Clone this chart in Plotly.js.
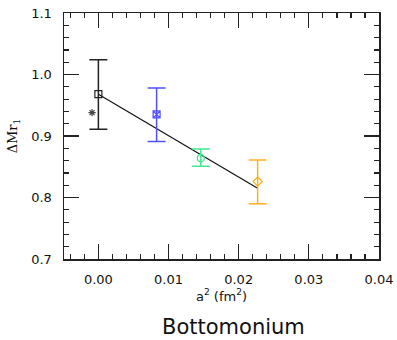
<!DOCTYPE html>
<html><head><meta charset="utf-8">
<script src="https://cdn.plot.ly/plotly-3.0.1.min.js"></script>
<style>html,body{margin:0;padding:0;background:#fff}#chart{width:397px;height:340px}</style>
</head><body><div id="chart"></div>
<script>
// data
const seriesNames = ['continuum','extra','blue','green','orange'];
const xs = [0.0, -0.0009, 0.0083, 0.0146, 0.0227];
const ys = [0.968, 0.938, 0.935, 0.864, 0.826];
const errPlus  = [0.056, 0, 0.043, 0.015, 0.035];
const errMinus = [0.057, 0, 0.044, 0.013, 0.036];
const colors = ['#222222', '#444444', '#5050ff', '#40e890', '#ffb020'];
const symbols = ['square-open', 'asterisk-open', 'square-x-open', 'circle-open', 'diamond-open'];
const fitX = [0.0, 0.0227];
const fitY = [0.968, 0.815];
const xTickVals = [0.00, 0.01, 0.02, 0.03, 0.04];
const xTickText = ['0.00','0.01','0.02','0.03','0.04'];
const yTickVals = [0.7, 0.8, 0.9, 1.0, 1.1];
const yTickText = ['0.7','0.8','0.9','1.0','1.1'];

const traces = [{
  x: fitX, y: fitY, mode: 'lines', line: {color: '#111', width: 1.2}, hoverinfo: 'skip'
}];
for (let i = 0; i < xs.length; i++) {
  const hasErr = errPlus[i] > 0;
  traces.push({
    x: [xs[i]], y: [ys[i]], mode: 'markers', name: seriesNames[i],
    marker: {symbol: symbols[i], size: i === 1 ? 6 : 7, color: colors[i], line: {width: 1.2, color: colors[i]}},
    error_y: hasErr ? {type: 'data', symmetric: false, array: [errPlus[i]], arrayminus: [errMinus[i]],
      color: colors[i], thickness: 1.5, width: 9} : {visible: false}
  });
}

const axisCommon = {
  showgrid: false, zeroline: false, showline: true, linecolor: '#222', linewidth: 1.5,
  mirror: 'allticks', ticks: 'inside', ticklen: 15, tickwidth: 1.3, tickcolor: '#222',
  tickfont: {family: 'DejaVu Sans', size: 13, color: '#111'}, ticklabelstandoff: 8
};

const layout = {
  width: 397, height: 340, showlegend: false,
  paper_bgcolor: '#fff', plot_bgcolor: '#fff',
  margin: {l: 64, r: 18, t: 13, b: 81},
  xaxis: Object.assign({}, axisCommon, {
    range: [-0.0049, 0.04], tickmode: 'array', tickvals: xTickVals, ticktext: xTickText,
    minor: {dtick: 0.002, ticklen: 5, ticks: 'inside', tickcolor: '#222', tickwidth: 1.2},
    title: {text: 'a<sup>2</sup> (fm<sup>2</sup>)', font: {family: 'DejaVu Sans', size: 13, color: '#111'}, standoff: 4}
  }),
  yaxis: Object.assign({}, axisCommon, {
    range: [0.7, 1.1], tickmode: 'array', tickvals: yTickVals, ticktext: yTickText,
    minor: {dtick: 0.02, ticklen: 5, ticks: 'inside', tickcolor: '#222', tickwidth: 1.2},
    title: {text: 'ΔMr<sub>1</sub>', font: {family: 'DejaVu Serif', size: 13, color: '#111'}, standoff: 10}
  }),
  annotations: [{
    text: 'Bottomonium', xref: 'paper', yref: 'paper', x: 0.537, y: -0.276,
    xanchor: 'center', yanchor: 'middle', showarrow: false,
    font: {family: 'DejaVu Sans', size: 21, color: '#111'}
  }]
};
Plotly.newPlot('chart', traces, layout, {displayModeBar: false, staticPlot: true});
</script></body></html>
